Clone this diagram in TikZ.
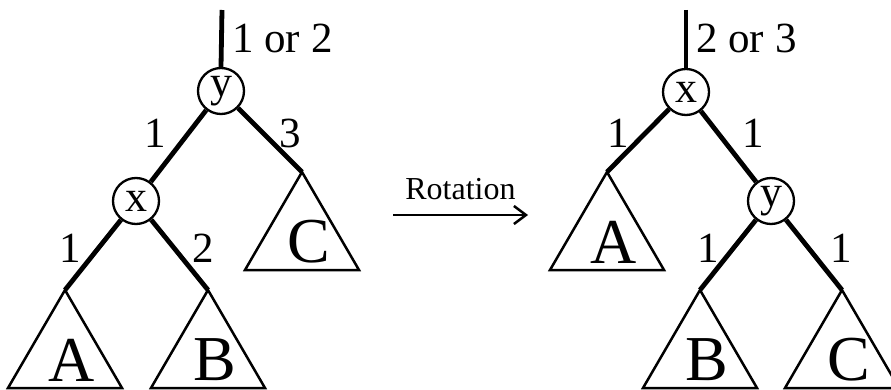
\documentclass[tikz,border=0pt]{standalone}
\usepackage{fontspec}
\setmainfont{Liberation Serif}
\usetikzlibrary{arrows.meta}

\tikzset{
  vertex/.style={draw, circle, line width=2.3pt, minimum size=46pt, inner sep=0pt,
    font=\fontsize{44}{50}\selectfont},
  edge/.style={line width=4.8pt},
  subtree/.style={line width=2.5pt, line join=miter},
  rank/.style={inner sep=0pt, font=\fontsize{43}{50}\selectfont},
  treename/.style={inner sep=0pt, font=\fontsize{64}{74}\selectfont},
}

\begin{document}
\begin{tikzpicture}[x=1pt, y=-1pt]
    \useasboundingbox (0,0) rectangle (891,390);

    % 左边：旋转前
    \coordinate (topL) at (222,10);
    \node[vertex] (yL) at (221,91) {\raisebox{-4pt}{y}};
    \node[vertex] (xL) at (136,201) {x};
    \coordinate (cL) at (302,172);
    \coordinate (aL) at (65,290);
    \coordinate (bL) at (208,290);

    \draw[edge] (topL) -- (yL.north);
    \draw[edge] (yL) -- (xL);
    \draw[edge] (yL) -- (cL);
    \draw[edge] (xL) -- (aL);
    \draw[edge] (xL) -- (bL);

    \node[rank, anchor=west] (hL) at (232,38) {1 or 2};
    \node[rank] (kYX) at (155,133) {1};
    \node[rank] (kYC) at (290,133) {3};
    \node[rank] (kXA) at (70,248) {1};
    \node[rank] (kXB) at (203,248) {2};

    % 右边：旋转后
    \coordinate (topR) at (686,10);
    \node[vertex] (xR) at (686,92) {x};
    \node[vertex] (yR) at (771,201) {\raisebox{-4pt}{y}};
    \coordinate (aR) at (607,172);
    \coordinate (bR) at (700,290);
    \coordinate (cR) at (842,290);

    \draw[edge] (topR) -- (xR.north);
    \draw[edge] (xR) -- (aR);
    \draw[edge] (xR) -- (yR);
    \draw[edge] (yR) -- (bR);
    \draw[edge] (yR) -- (cR);

    \node[rank, anchor=west] (hR) at (696,38) {2 or 3};
    \node[rank] (kXA2) at (618,133) {1};
    \node[rank] (kXY2) at (753,133) {1};
    \node[rank] (kYB2) at (708,248) {1};
    \node[rank] (kYC2) at (841,248) {1};

    % 子树三角形
    \foreach \apex/\lbl in {aL/A, bL/B, cL/C, aR/A, bR/B, cR/C}
        \draw[subtree] (\apex) -- ++(-57,98) -- ++(114,0) -- cycle
            (\apex) ++(7,70) node[treename] (t\apex) {\lbl};

    % 中间的箭头
    \coordinate (arrS) at (393,215);
    \coordinate (arrE) at (528,215);
    \draw[line width=2.5pt, -{Straight Barb[length=12pt, width=18pt]}] (arrS) --
        node[above=14pt, inner sep=0pt, font=\fontsize{32}{38}\selectfont] (rot) {Rotation} (arrE);
\end{tikzpicture}
\end{document}
